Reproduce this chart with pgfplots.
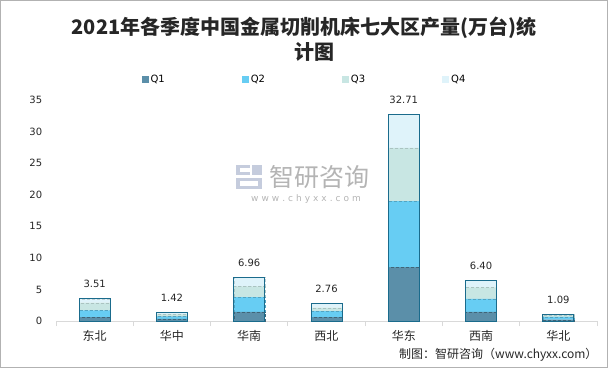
\documentclass[border=0pt]{standalone}
\usepackage{pgfplots}
\pgfplotsset{compat=1.18}
\usepackage{fontspec}
\setmainfont{DejaVu Sans}
\newfontfamily\cjk{Noto Sans CJK SC}
\definecolor{qa}{HTML}{5B8FA9}
\definecolor{qb}{HTML}{67CDF3}
\definecolor{qc}{HTML}{C8E6E3}
\definecolor{qd}{HTML}{DFF3FA}
\definecolor{edge}{HTML}{1A6B8C}
\definecolor{axgray}{HTML}{D9D9D9}
\definecolor{wm}{HTML}{B4B4B4}
\definecolor{logo}{HTML}{C5CCDD}
\pgfplotsset{
  myax/.style={
    at={(56pt,48pt)}, anchor=south west, scale only axis,
    width=541pt, height=221pt,
    xmin=-0.5, xmax=6.5, ymin=0, ymax=35,
    bar width=31pt,
    /pgf/number format/assume math mode=true,
  }
}
\begin{document}
\begin{tikzpicture}
\path[use as bounding box] (0pt,0pt) rectangle (612pt,369pt);
\draw[color=gray!60, line width=0.8pt] (0.5pt,1.5pt) rectangle (607pt,368.5pt);
% title
\node[font=\cjk\bfseries\fontsize{20}{20}\selectfont, color=black!85] at (304pt,341pt) {2021年各季度中国金属切削机床七大区产量(万台)统};
\node[font=\cjk\bfseries\fontsize{20}{20}\selectfont, color=black!85] at (314pt,317pt) {计图};
% watermark
\fill[logo] (236pt,194pt) rectangle (250pt,204pt);
\fill[white] (240pt,197pt) rectangle (250pt,201pt);
\fill[logo] (252pt,194pt) rectangle (262pt,204pt);
\fill[logo] (236pt,180pt) rectangle (262pt,191pt);
\fill[white] (240pt,183pt) rectangle (258pt,188pt);
\node[font=\cjk\fontsize{25}{25}\selectfont, color=wm, anchor=west] at (266pt,192pt) {智研咨询};
\node[font=\fontsize{9}{9}\selectfont, color=wm] at (306pt,170pt) {w\,\,w\,\,w\,\,.\,\,c\,\,h\,\,y\,\,x\,\,x\,\,.\,\,c\,\,o\,\,m};
% source
\node[font=\cjk\fontsize{12}{12}\selectfont, anchor=east, color=black!85] at (601pt,14pt) {制图：智研咨询（www.chyxx.com）};

\begin{axis}[myax, ybar stacked,
  axis x line*=bottom, axis y line*=left,
  y axis line style={draw=none},
  x axis line style={draw=axgray, line width=0.8pt, -},
  ytick={0,5,...,35}, ytick style={draw=none},
  yticklabel style={font=\fontsize{10}{10}\selectfont, color=black!85, xshift=-6pt},
  xtick={0,...,6},
  xticklabels={东北,华中,华南,西北,华东,西南,华北},
  xticklabel style={font=\cjk\fontsize{12}{12}\selectfont, color=black!85, yshift=-2pt},
  major x tick style={draw=none},
  minor xtick={-0.5,0.5,...,6.5},
  minor x tick style={draw=axgray, line width=0.8pt},
  minor tick length=5pt, tick align=outside,
  legend columns=4,
  legend style={at={(0.5,1)}, anchor=south, xshift=-22pt, yshift=12pt, draw=none,
    font=\fontsize{10}{10}\selectfont, /tikz/every even column/.append style={column sep=75pt}},
  legend image code/.code={\fill[#1, draw=none] (0pt,-3.5pt) rectangle (7pt,3.5pt);},
]
\addplot[fill=qa, draw=qa!70!black, densely dashed, line width=0.3pt] coordinates {(0,0.60) (1,0.35) (2,1.43) (3,0.63) (4,8.50) (5,1.43) (6,0.20)};
\addplot[fill=qb, draw=qb!80!black, densely dashed, line width=0.3pt] coordinates {(0,1.10) (1,0.35) (2,2.37) (3,0.95) (4,10.50) (5,2.06) (6,0.45)};
\addplot[fill=qc, draw=qc!85!black, densely dashed, line width=0.3pt] coordinates {(0,1.20) (1,0.38) (2,1.70) (3,0.53) (4,8.40) (5,1.85) (6,0.27)};
\addplot[fill=qd, draw=qd!85!black, densely dashed, line width=0.3pt] coordinates {(0,0.61) (1,0.34) (2,1.46) (3,0.65) (4,5.31) (5,1.06) (6,0.17)};
\legend{Q1,Q2,Q3,Q4}
\end{axis}

\begin{axis}[myax, ybar, hide axis,
  nodes near coords,
  every node near coord/.append style={font=\fontsize{10}{10}\selectfont, color=black!85, yshift=7pt,
     /pgf/number format/fixed, /pgf/number format/fixed zerofill, /pgf/number format/precision=2},
]
\addplot[fill=none, draw=edge, line width=1pt] coordinates {(0,3.51) (1,1.42) (2,6.96) (3,2.76) (4,32.71) (5,6.40) (6,1.09)};
\end{axis}
\end{tikzpicture}
\end{document}
